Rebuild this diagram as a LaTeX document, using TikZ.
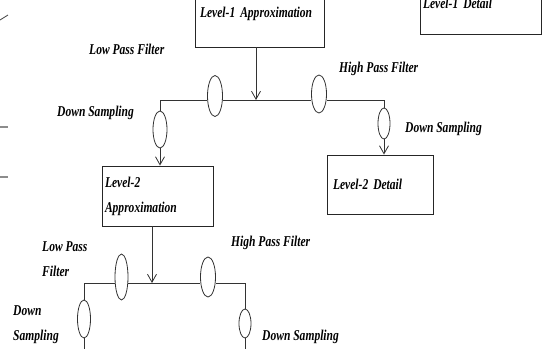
\documentclass[tikz,border=0pt]{standalone}
\usepackage{fontspec}
\setmainfont{Liberation Serif}[FakeStretch=0.77]
\usetikzlibrary{shapes.geometric,arrows.meta,shadows}

\newcommand\lblfont{\fontsize{15pt}{25pt}\selectfont\bfseries\itshape}

\tikzset{
  lbl/.style={inner sep=0pt, anchor=west, align=left, font=\lblfont},
  boxnode/.style={rectangle, draw=black!85, line width=0.9pt, fill=white,
    align=left, inner ysep=0pt, font=\lblfont,
    drop shadow={shadow xshift=0.9pt, shadow yshift=-0.9pt, fill=black!55, opacity=1}},
  filt/.style={ellipse, draw=black!80, line width=0.8pt, inner sep=0pt},
  wire/.style={draw=black!80, line width=0.8pt},
  arr/.style={wire, -{Straight Barb[length=8pt,width=9pt]}},
}

\begin{document}
\begin{tikzpicture}[x=1pt, y=-1pt]
\useasboundingbox (0,0) rectangle (543,348);
\clip (0,0) rectangle (543,348);

% stray strokes along the left edge
\draw[black!70, line width=0.9pt] (0,20) .. controls (4,17) .. (8,15);
\draw[black!45, line width=1.3pt] (0,127) -- (8,127);
\draw[black!45, line width=1.3pt] (0,177) -- (8,177);

% level boxes
\node[boxnode, minimum width=129pt, minimum height=66pt, text width=119pt, inner xsep=5pt]
  (l1a) at (259.5,14) {Level-1 Approximation};
\node[boxnode, minimum width=121pt, minimum height=62pt, text width=115pt, inner xsep=3pt]
  (l1d) at (480.5,3) {Level-1 Detail};
\node[boxnode, minimum width=111pt, minimum height=60pt, text width=105pt, inner xsep=3pt]
  (l2a) at (157.5,196) {Level-2\\Approximation};
\node[boxnode, minimum width=106pt, minimum height=59pt, text width=94pt, inner xsep=6pt]
  (l2d) at (380,184.5) {Level-2 Detail};

% first decomposition stage
\coordinate (j1) at (256,100);
\node[filt, minimum width=15pt, minimum height=41pt] (lpf1) at (215,96) {};
\node[filt, minimum width=15pt, minimum height=38pt] (hpf1) at (319,94) {};
\node[filt, minimum width=14pt, minimum height=37pt] (ds1l) at (160,129.5) {};
\node[filt, minimum width=12pt, minimum height=31pt] (ds1r) at (384,123.5) {};

\draw[arr] (j1 |- l1a.south) -- (j1);
\draw[wire] (ds1l.north) |- (lpf1.west |- j1);
\draw[wire] (lpf1.east |- j1) -- (hpf1.west |- j1);
\draw[wire] (hpf1.east |- j1) -| (ds1r.north);
\draw[arr] (ds1l.south) -- (ds1l.south |- l2a.north);
\draw[arr] (ds1r.south) -- (ds1r.south |- l2d.north);

% second decomposition stage
\coordinate (j2) at (152,283);
\coordinate (bot) at (0,352);
\node[filt, minimum width=13pt, minimum height=46pt] (lpf2) at (121.5,277) {};
\node[filt, minimum width=15pt, minimum height=40pt] (hpf2) at (208,277) {};
\node[filt, minimum width=13pt, minimum height=38pt] (ds2l) at (84,319) {};
\node[filt, minimum width=12pt, minimum height=29pt] (ds2r) at (245,323.5) {};

\draw[arr] (j2 |- l2a.south) -- (j2);
\draw[wire] (ds2l.north) |- (lpf2.west |- j2);
\draw[wire] (lpf2.east |- j2) -- (hpf2.west |- j2);
\draw[wire] (hpf2.east |- j2) -| (ds2r.north);
\draw[wire] (ds2l.south) -- (ds2l.south |- bot);
\draw[wire] (ds2r.south) -- (ds2r.south |- bot);

% labels
\node[lbl] (t1) at (89,49) {Low Pass Filter};
\node[lbl] (t2) at (339,69) {High Pass Filter};
\node[lbl] (t3) at (57,113) {Down Sampling};
\node[lbl] (t4) at (405,129) {Down Sampling};
\node[lbl] (t5) at (42,259.5) {Low Pass\\Filter};
\node[lbl] (t6) at (231,243) {High Pass Filter};
\node[lbl] (t7) at (13,325) {Down\\Sampling};
\node[lbl] (t8) at (262,337) {Down Sampling};
\end{tikzpicture}
\end{document}
